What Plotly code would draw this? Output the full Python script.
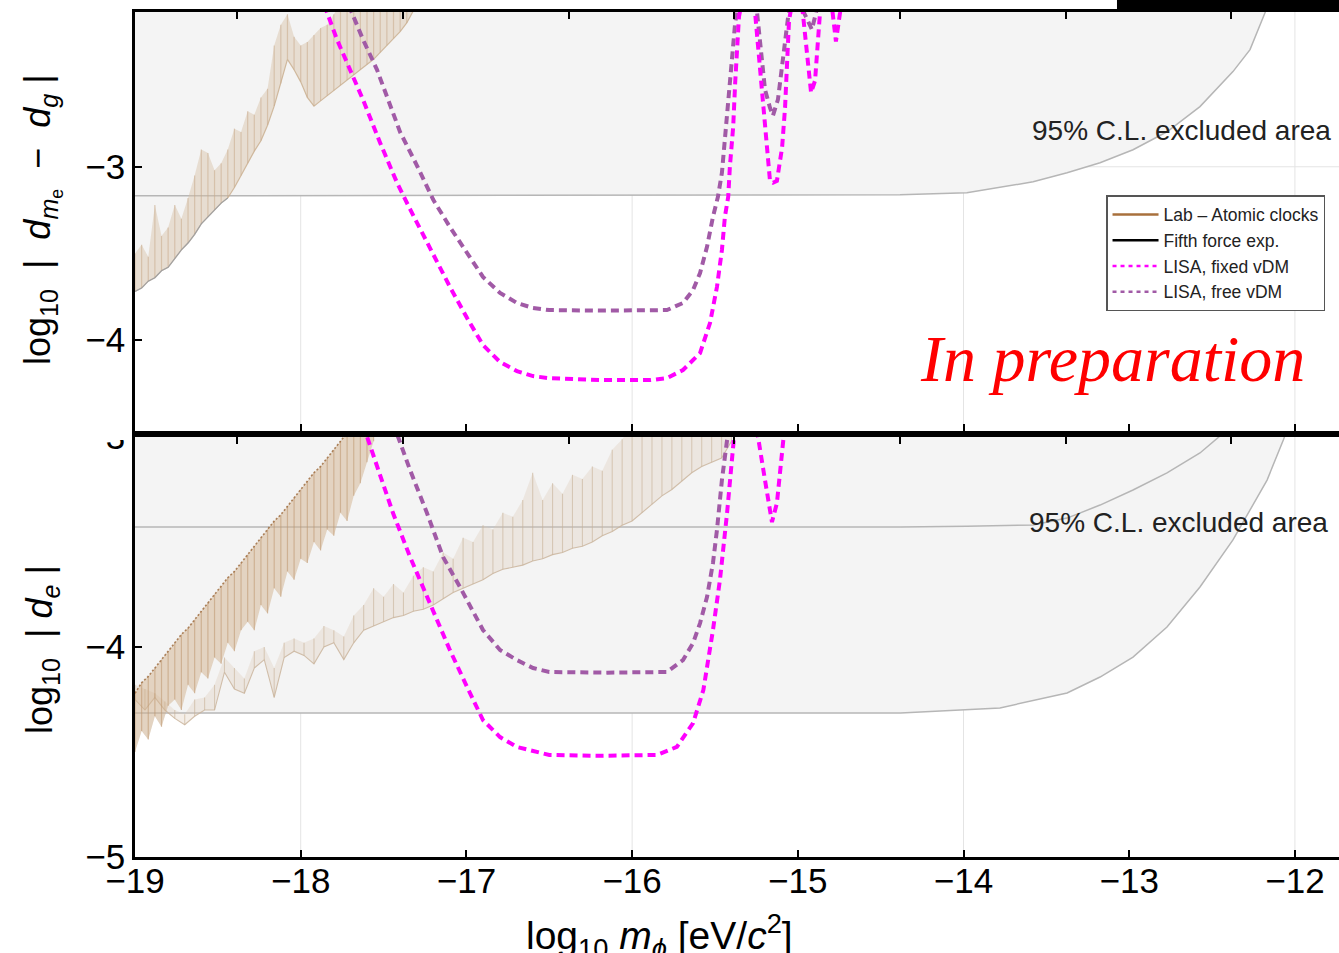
import plotly.graph_objects as go

# ---------------- axis data ----------------
x_ticks = [-19, -18, -17, -16, -15, -14, -13, -12]
x_range = [-19.0, -11.734]
grid_x = [-18, -16, -14, -12]
freq_ticks_log10_hz = [-4, -3, -2, -1, 0, 1, 2]      # top-frame ticks (frequency, Hz)
LOG10_HZ_PER_EV = 14.3835
top_y_ticks = [-4, -3]
top_y_range = [-4.525, -2.107]
bot_y_ticks = [-5, -4, -3]
bot_y_range = [-5.0, -3.0]

# ---------------- fifth-force 95% C.L. boundaries ----------------
ff_top_x = [-19.0, -15.0, -14.383, -13.98, -13.58, -13.375, -13.176, -12.977, -12.772,
            -12.573, -12.374, -12.271, -12.18, -12.10]
ff_top_y = [-3.168, -3.166, -3.162, -3.150, -3.087, -3.035, -2.977, -2.902, -2.798,
            -2.653, -2.451, -2.324, -2.11, -1.95]

ffb_up_x = [-19.0, -14.38, -13.98, -13.58, -13.375, -13.176, -12.977, -12.772, -12.573,
            -12.47, -12.40]
ffb_up_y = [-3.429, -3.429, -3.425, -3.419, -3.386, -3.324, -3.252, -3.171, -3.076,
            -3.005, -2.96]

ffb_low_x = [-19.0, -14.38, -13.78, -13.375, -13.176, -12.977, -12.772, -12.573, -12.374,
             -12.168, -12.07, -12.03]
ffb_low_y = [-4.314, -4.314, -4.29, -4.219, -4.143, -4.048, -3.905, -3.714, -3.49,
             -3.205, -3.014, -2.93]

# ---------------- lab (atomic clocks) bands ----------------
lab_top_x = [-19.00, -18.96, -18.92, -18.88, -18.84, -18.80, -18.76, -18.72, -18.68, -18.64,
             -18.60, -18.56, -18.52, -18.48, -18.44, -18.40, -18.36, -18.32, -18.28, -18.24,
             -18.20, -18.16, -18.12, -18.08, -18.04, -18.00, -17.96, -17.92, -17.88, -17.84,
             -17.80, -17.76, -17.72, -17.68, -17.64, -17.60, -17.56, -17.52, -17.48, -17.44,
             -17.40, -17.36, -17.32]
lab_top_low = [-3.72, -3.70, -3.66, -3.64, -3.60, -3.58, -3.53, -3.48, -3.44, -3.39,
               -3.33, -3.29, -3.25, -3.21, -3.18, -3.12, -3.05, -2.98, -2.91, -2.85,
               -2.76, -2.65, -2.52, -2.38, -2.44, -2.51, -2.60, -2.65, -2.62, -2.59,
               -2.56, -2.53, -2.50, -2.47, -2.44, -2.41, -2.38, -2.34, -2.30, -2.26,
               -2.22, -2.17, -2.10]
lab_top_high = [-3.50, -3.45, -3.52, -3.22, -3.40, -3.35, -3.22, -3.30, -3.18, -3.05,
                -2.90, -2.92, -3.02, -2.98, -2.90, -2.78, -2.80, -2.68, -2.70, -2.60,
                -2.55, -2.30, -2.18, -2.12, -2.25, -2.30, -2.28, -2.24, -2.20, -2.18,
                -2.12, -2.05, -2.00, -1.98, -1.96, -1.95, -1.94, -1.93, -1.92, -1.91,
                -1.90, -1.90, -1.90]

lab_b1_x = [-19.00, -18.96, -18.92, -18.88, -18.84, -18.80, -18.76, -18.72, -18.68, -18.64,
            -18.60, -18.56, -18.52, -18.48, -18.44, -18.40, -18.36, -18.32, -18.28, -18.24,
            -18.20, -18.16, -18.12, -18.08, -18.04, -18.00, -17.96, -17.92, -17.88, -17.84,
            -17.80, -17.76, -17.72, -17.68, -17.64, -17.60, -17.56]
lab_b1_high = [-4.22, -4.17, -4.14, -4.10, -4.06, -4.02, -3.98, -3.94, -3.91, -3.87,
               -3.83, -3.79, -3.75, -3.71, -3.67, -3.64, -3.60, -3.56, -3.52, -3.48,
               -3.44, -3.40, -3.37, -3.33, -3.29, -3.25, -3.21, -3.17, -3.14, -3.10,
               -3.06, -3.02, -2.98, -2.94, -2.90, -2.86, -2.82]
lab_b1_low = [-4.50, -4.40, -4.44, -4.33, -4.38, -4.28, -4.25, -4.30, -4.18, -4.22,
              -4.12, -4.15, -4.05, -4.08, -3.98, -4.02, -3.92, -3.88, -3.92, -3.80,
              -3.84, -3.72, -3.76, -3.64, -3.68, -3.58, -3.60, -3.50, -3.54, -3.44,
              -3.47, -3.36, -3.40, -3.28, -3.22, -3.12, -3.02]

lab_b2_x = [-19.00, -18.94, -18.88, -18.82, -18.76, -18.70, -18.64, -18.58, -18.52, -18.46,
            -18.40, -18.34, -18.28, -18.22, -18.16, -18.10, -18.04, -17.98, -17.92, -17.86,
            -17.80, -17.74, -17.68, -17.62, -17.56, -17.50, -17.44, -17.38, -17.32, -17.26,
            -17.20, -17.14, -17.08, -17.02, -16.96, -16.90, -16.84, -16.78, -16.72, -16.66,
            -16.60, -16.54, -16.48, -16.42, -16.36, -16.30, -16.24, -16.18, -16.12, -16.06,
            -16.00, -15.94, -15.88, -15.82, -15.76, -15.70, -15.64, -15.58, -15.52, -15.46,
            -15.40]
lab_b2_low = [-4.25, -4.30, -4.24, -4.30, -4.34, -4.37, -4.33, -4.30, -4.30, -4.12,
              -4.20, -4.22, -4.10, -4.06, -4.24, -4.05, -4.02, -4.04, -4.08, -4.00,
              -3.98, -4.06, -3.98, -3.92, -3.90, -3.88, -3.86, -3.85, -3.83, -3.82,
              -3.80, -3.77, -3.74, -3.72, -3.70, -3.68, -3.65, -3.63, -3.62, -3.61,
              -3.59, -3.58, -3.56, -3.55, -3.53, -3.52, -3.50, -3.47, -3.45, -3.42,
              -3.40, -3.36, -3.32, -3.28, -3.25, -3.21, -3.17, -3.14, -3.12, -3.10,
              -3.02]
lab_b2_high = [-4.18, -4.20, -4.22, -4.26, -4.30, -4.32, -4.25, -4.24, -4.18, -4.05,
               -4.10, -4.15, -4.02, -4.00, -4.10, -3.98, -3.96, -3.98, -3.96, -3.90,
               -3.92, -3.95, -3.85, -3.80, -3.72, -3.76, -3.70, -3.74, -3.66, -3.62,
               -3.64, -3.55, -3.58, -3.48, -3.50, -3.42, -3.44, -3.36, -3.38, -3.30,
               -3.17, -3.30, -3.22, -3.27, -3.18, -3.20, -3.14, -3.16, -3.06, -3.01,
               -2.95, -2.92, -2.90, -2.88, -2.86, -2.85, -2.84, -2.83, -2.82, -2.81,
               -2.80]

# ---------------- LISA sensitivity curves ----------------
lisa_fixed_top_x = [-17.95, -17.841, -17.781, -17.70, -17.624, -17.521, -17.419, -17.34, -17.20, -17.099,
                    -16.996, -16.90, -16.797, -16.695, -16.598, -16.50, -16.19, -15.89, -15.79, -15.693,
                    -15.59, -15.53, -15.488, -15.458, -15.44, -15.42, -15.41, -15.39, -15.378, -15.367,
                    -15.355, -15.31, -15.258, -15.168, -15.15, -15.126, -15.095, -15.077, -15.065, -15.053,
                    -15.01, -14.97, -14.92, -14.896, -14.866, -14.83, -14.79, -14.77, -14.745, -14.727]
lisa_fixed_top_y = [-1.86, -2.11, -2.266, -2.439, -2.613, -2.861, -3.092, -3.245, -3.509, -3.694,
                    -3.873, -4.029, -4.127, -4.179, -4.208, -4.22, -4.231, -4.231, -4.22, -4.173,
                    -4.075, -3.902, -3.694, -3.48, -3.289, -3.173, -3.0, -2.769, -2.514, -2.283,
                    -2.133, -1.92, -2.11, -3.081, -3.092, -3.081, -2.89, -2.659, -2.37, -2.156,
                    -1.92, -2.11, -2.572, -2.503, -2.11, -1.92, -2.11, -2.277, -2.11, -1.94]

lisa_free_top_x = [-17.80, -17.69, -17.624, -17.54, -17.443, -17.40, -17.30, -17.20, -17.10, -16.996,
                   -16.90, -16.797, -16.695, -16.598, -16.50, -16.19, -15.89, -15.79, -15.693, -15.632,
                   -15.59, -15.548, -15.512, -15.482, -15.458, -15.44, -15.42, -15.40, -15.378, -15.367,
                   -15.30, -15.246, -15.198, -15.168, -15.15, -15.12, -15.09, -15.059, -15.01, -14.963,
                   -14.915, -14.89, -14.86]
lisa_free_top_y = [-1.86, -2.11, -2.266, -2.439, -2.688, -2.80, -2.99, -3.191, -3.347, -3.497,
                   -3.636, -3.728, -3.786, -3.815, -3.827, -3.83, -3.83, -3.827, -3.786, -3.711,
                   -3.613, -3.462, -3.289, -3.173, -3.035, -2.844, -2.613, -2.382, -2.168, -2.104,
                   -1.92, -2.11, -2.555, -2.659, -2.705, -2.613, -2.382, -2.139, -1.92, -2.11,
                   -2.208, -2.11, -1.92]

lisa_fixed_bot_x = [-17.75, -17.60, -17.443, -17.34, -17.238, -17.10, -16.996, -16.90, -16.797, -16.695,
                    -16.50, -16.20, -15.85, -15.73, -15.632, -15.57, -15.512, -15.47, -15.427, -15.397,
                    -15.385, -15.33, -15.24, -15.198, -15.156, -15.126, -15.09, -15.06]
lisa_fixed_bot_y = [-2.65, -3.0, -3.362, -3.571, -3.762, -4.014, -4.19, -4.348, -4.429, -4.476,
                    -4.514, -4.518, -4.514, -4.476, -4.362, -4.205, -3.919, -3.681, -3.362, -3.095,
                    -3.0, -2.80, -3.0, -3.205, -3.405, -3.314, -3.029, -2.80]

lisa_free_bot_x = [-17.55, -17.413, -17.34, -17.238, -17.141, -17.039, -16.90, -16.797, -16.695, -16.598,
                   -16.50, -16.15, -15.79, -15.693, -15.632, -15.59, -15.548, -15.512, -15.488, -15.458,
                   -15.427, -15.40]
lisa_free_bot_y = [-2.70, -3.0, -3.157, -3.362, -3.571, -3.714, -3.919, -4.014, -4.062, -4.10,
                   -4.119, -4.122, -4.119, -4.062, -3.981, -3.886, -3.762, -3.60, -3.443, -3.205,
                   -3.029, -2.85]

legend_names = ["Lab \u2013 Atomic clocks", "Fifth force exp.", "LISA, fixed vDM", "LISA, free vDM"]

for a, b in [(ff_top_x, ff_top_y), (ffb_up_x, ffb_up_y), (ffb_low_x, ffb_low_y),
             (lab_top_x, lab_top_low), (lab_top_x, lab_top_high),
             (lab_b1_x, lab_b1_low), (lab_b1_x, lab_b1_high),
             (lab_b2_x, lab_b2_low), (lab_b2_x, lab_b2_high),
             (lisa_fixed_top_x, lisa_fixed_top_y), (lisa_free_top_x, lisa_free_top_y),
             (lisa_fixed_bot_x, lisa_fixed_bot_y), (lisa_free_bot_x, lisa_free_bot_y)]:
    assert len(a) == len(b), (len(a), len(b))

# ---------------- styles ----------------
FONT = "Liberation Sans, Arial, Helvetica, sans-serif"
FILL = "rgb(244,244,244)"
EDGE = "rgb(182,182,182)"
MAGENTA = "#ff00ff"
PURPLE = "#a15aa6"
CEIL = -1.5  # closure level above the visible range for shaded polygons


def above(xs, ys):
    return list(xs) + [xs[-1], xs[0]], list(ys) + [CEIL, CEIL]


def band(xs, lo, hi):
    return list(xs) + list(xs)[::-1], list(hi) + list(lo)[::-1]


def spikes(xs, lo, hi):
    sx, sy = [], []
    for x, a, b in zip(xs, lo, hi):
        sx += [x, x, None]
        sy += [a, b, None]
    return sx, sy


fig = go.Figure()
T = dict(xaxis="x2", yaxis="y2")
B = dict(xaxis="x", yaxis="y")
nl = dict(showlegend=False, hoverinfo="skip")

# shaded excluded areas
for xs, ys, ax in [(ff_top_x, ff_top_y, T), (lab_top_x, lab_top_low, T),
                   (ffb_low_x, ffb_low_y, B), (lab_b1_x, lab_b1_low, B)]:
    px_, py_ = above(xs, ys)
    fig.add_trace(go.Scatter(x=px_, y=py_, fill="toself", fillcolor=FILL, line=dict(width=0),
                             mode="lines", **ax, **nl))

# boundary lines
fig.add_trace(go.Scatter(x=ff_top_x, y=ff_top_y, mode="lines", line=dict(color=EDGE, width=1.5), **T, **nl))
fig.add_trace(go.Scatter(x=ffb_up_x, y=ffb_up_y, mode="lines", line=dict(color=EDGE, width=1.5), **B, **nl))
fig.add_trace(go.Scatter(x=ffb_low_x, y=ffb_low_y, mode="lines", line=dict(color=EDGE, width=1.5), **B, **nl))

# lab band: top panel
bx, by = band(lab_top_x, lab_top_low, lab_top_high)
fig.add_trace(go.Scatter(x=bx, y=by, fill="toself", fillcolor="rgba(214,192,166,0.45)",
                         line=dict(width=0), mode="lines", **T, **nl))
sx, sy = spikes(lab_top_x, lab_top_low, lab_top_high)
fig.add_trace(go.Scatter(x=sx, y=sy, mode="lines", line=dict(color="rgba(200,170,138,0.55)", width=1.2),
                         connectgaps=False, **T, **nl))
fig.add_trace(go.Scatter(x=lab_top_x, y=lab_top_low, mode="lines",
                         line=dict(color="rgba(200,172,140,0.8)", width=1.2), **T, **nl))
fig.add_trace(go.Scatter(x=lab_top_x[:15], y=lab_top_low[:15], mode="lines",
                         line=dict(color="rgba(140,150,162,0.7)", width=1.2), **T, **nl))

# lab bands: bottom panel
bx, by = band(lab_b2_x, lab_b2_low, lab_b2_high)
fig.add_trace(go.Scatter(x=bx, y=by, fill="toself", fillcolor="rgba(218,200,180,0.30)",
                         line=dict(width=0), mode="lines", **B, **nl))
sx, sy = spikes(lab_b2_x, lab_b2_low, lab_b2_high)
fig.add_trace(go.Scatter(x=sx, y=sy, mode="lines", line=dict(color="rgba(200,178,152,0.6)", width=1.1),
                         connectgaps=False, **B, **nl))
fig.add_trace(go.Scatter(x=lab_b2_x, y=lab_b2_low, mode="lines",
                         line=dict(color="rgba(200,178,152,0.8)", width=1.1), **B, **nl))

bx, by = band(lab_b1_x, lab_b1_low, lab_b1_high)
fig.add_trace(go.Scatter(x=bx, y=by, fill="toself", fillcolor="rgba(210,178,142,0.5)",
                         line=dict(width=0), mode="lines", **B, **nl))
sx, sy = spikes(lab_b1_x, lab_b1_low, lab_b1_high)
fig.add_trace(go.Scatter(x=sx, y=sy, mode="lines", line=dict(color="rgba(190,150,110,0.55)", width=1.2),
                         connectgaps=False, **B, **nl))
fig.add_trace(go.Scatter(x=lab_b1_x, y=lab_b1_high, mode="lines",
                         line=dict(color="rgba(150,95,45,0.75)", width=1.6, dash="2px,2px"), **B, **nl))

# LISA curves
DASH = "8px,5px"
fig.add_trace(go.Scatter(x=lisa_free_top_x, y=lisa_free_top_y, mode="lines",
                         line=dict(color=PURPLE, width=4, dash=DASH), **T, **nl))
fig.add_trace(go.Scatter(x=lisa_fixed_top_x, y=lisa_fixed_top_y, mode="lines",
                         line=dict(color=MAGENTA, width=4, dash=DASH), **T, **nl))
fig.add_trace(go.Scatter(x=lisa_free_bot_x, y=lisa_free_bot_y, mode="lines",
                         line=dict(color=PURPLE, width=4, dash=DASH), **B, **nl))
fig.add_trace(go.Scatter(x=lisa_fixed_bot_x, y=lisa_fixed_bot_y, mode="lines",
                         line=dict(color=MAGENTA, width=4, dash=DASH), **B, **nl))

# invisible anchors for the top-frame (frequency) tick axes
fig.add_trace(go.Scatter(x=[None], y=[None], xaxis="x3", yaxis="y", **nl))
fig.add_trace(go.Scatter(x=[None], y=[None], xaxis="x4", yaxis="y2", **nl))

# legend entries
legend_styles = [dict(color="rgb(168,112,60)", width=2.5),
                 dict(color="black", width=2.5),
                 dict(color=MAGENTA, width=2.5, dash="4px,4px"),
                 dict(color=PURPLE, width=2.5, dash="4px,4px")]
for name, st in zip(legend_names, legend_styles):
    fig.add_trace(go.Scatter(x=[None], y=[None], mode="lines", name=name, line=st, xaxis="x2", yaxis="y2"))

freq_tick_pos = [f - LOG10_HZ_PER_EV for f in freq_ticks_log10_hz]

axis_common = dict(ticks="inside", ticklen=7, tickwidth=2, tickcolor="black",
                   showline=True, linewidth=2.5, linecolor="black",
                   showgrid=False, zeroline=False, automargin=False)
top_tick_axis = dict(side="top", range=x_range, tickvals=freq_tick_pos, showticklabels=False,
                     ticks="inside", ticklen=7, tickwidth=2, tickcolor="black",
                     showline=False, showgrid=False, zeroline=False, automargin=False)
tickfont = dict(family=FONT, size=35, color="black")

fig.update_layout(
    width=1339, height=953,
    margin=dict(l=135, r=0, t=12, b=96, autoexpand=False),
    paper_bgcolor="white", plot_bgcolor="white",
    font=dict(family=FONT, color="#222"),
    xaxis=dict(domain=[0, 1], anchor="y", range=x_range, tickvals=x_ticks, mirror=True,
               tickfont=tickfont, ticklabelstandoff=-9, **axis_common),
    xaxis2=dict(domain=[0, 1], anchor="y2", range=x_range, tickvals=x_ticks, mirror=True,
                showticklabels=False, **axis_common),
    xaxis3=dict(overlaying="x", anchor="y", **top_tick_axis),
    xaxis4=dict(overlaying="x2", anchor="y2", **top_tick_axis),
    yaxis=dict(domain=[0, 0.497], anchor="x", range=bot_y_range, tickvals=bot_y_ticks,
               tickfont=tickfont, **axis_common),
    yaxis2=dict(domain=[0.5041, 1], anchor="x2", range=top_y_range, tickvals=top_y_ticks,
                tickfont=tickfont, **axis_common),
    showlegend=True,
    legend=dict(x=0.8065, y=0.7834, xanchor="left", yanchor="top",
                bgcolor="white", bordercolor="#555", borderwidth=1.5, itemwidth=46,
                font=dict(family=FONT, size=17.5, color="#222"), tracegroupgap=0),
)

shapes = []
for g in grid_x:
    shapes.append(dict(type="line", xref="x", yref="y domain", x0=g, x1=g, y0=0, y1=1,
                       line=dict(color="rgb(228,228,228)", width=1), layer="below"))
    shapes.append(dict(type="line", xref="x2", yref="y2 domain", x0=g, x1=g, y0=0, y1=1,
                       line=dict(color="rgb(228,228,228)", width=1), layer="below"))
shapes.append(dict(type="line", xref="x2 domain", yref="y2", x0=0, x1=1, y0=-3, y1=-3,
                   line=dict(color="rgb(228,228,228)", width=1), layer="below"))
# black strip at the top right of the slide crop
shapes.append(dict(type="rect", xref="paper", yref="paper", x0=0.8156, x1=1.0, y0=1.0024, y1=1.0142,
                   fillcolor="black", line=dict(width=0), layer="above"))
# the top panel hides the upper half of the lower panel's "-3" label
shapes.append(dict(type="rect", xref="paper", yref="paper", x0=-0.07, x1=-0.0035, y0=0.4935, y1=0.5195,
                   fillcolor="white", line=dict(width=0), layer="above"))
fig.update_layout(shapes=shapes)

NB = "\u00a0"
annotations = [
    dict(text=f"log<sub>10</sub>{NB}{NB}|{NB}{NB}<i>d</i><sub><i>m</i><sub>e</sub></sub>{NB}{NB}\u2212{NB}{NB}<i>d</i><sub><i>g</i></sub>{NB}|",
         x=-0.0772, y=0.7538, xref="paper", yref="paper", textangle=-90,
         xanchor="center", yanchor="middle", showarrow=False,
         font=dict(family=FONT, size=36, color="black")),
    dict(text=f"log<sub>10</sub>{NB}{NB}|{NB}<i>d</i><sub><i>e</i></sub>{NB}|",
         x=-0.0772, y=0.245, xref="paper", yref="paper", textangle=-90,
         xanchor="center", yanchor="middle", showarrow=False,
         font=dict(family=FONT, size=36, color="black")),
    dict(text=f"log<sub>10</sub>{NB}<i>m</i><sub><i>\u03d5</i></sub>{NB}[eV/<i>c</i><sup>2</sup>]",
         x=0.436, y=-0.094, xref="paper", yref="paper",
         xanchor="center", yanchor="middle", showarrow=False,
         font=dict(family=FONT, size=39, color="black")),
    dict(text="95% C.L. excluded area", x=0.995, y=0.860, xref="paper", yref="paper",
         xanchor="right", yanchor="middle", showarrow=False,
         font=dict(family=FONT, size=28, color="#222")),
    dict(text="95% C.L. excluded area", x=0.9925, y=0.3964, xref="paper", yref="paper",
         xanchor="right", yanchor="middle", showarrow=False,
         font=dict(family=FONT, size=28, color="#222")),
    dict(text="<i>In preparation</i>", x=0.8115, y=0.5905, xref="paper", yref="paper",
         xanchor="center", yanchor="middle", showarrow=False,
         font=dict(family="Liberation Serif, Times New Roman, serif", size=66, color="red")),
]
fig.update_layout(annotations=annotations)

fig.write_html("out.html", config={"displayModeBar": False},
               post_script="document.body.style.margin='0';document.body.style.overflow='hidden';")
